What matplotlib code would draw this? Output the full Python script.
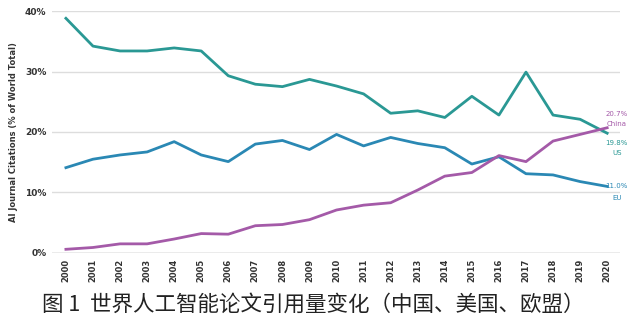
import matplotlib
matplotlib.use("Agg")
import matplotlib.pyplot as plt

plt.rcParams['font.family'] = ['DejaVu Sans']

years = list(range(2000, 2021))
us = [38.8, 34.2, 33.4, 33.4, 33.9, 33.4, 29.3, 27.9, 27.5, 28.7, 27.6,
      26.3, 23.1, 23.5, 22.4, 25.9, 22.8, 29.9, 22.8, 22.1, 19.8]
eu = [14.1, 15.5, 16.2, 16.7, 18.4, 16.2, 15.1, 18.0, 18.6, 17.1, 19.6,
      17.7, 19.1, 18.1, 17.4, 14.7, 15.9, 13.1, 12.9, 11.8, 11.0]
china = [0.6, 0.9, 1.5, 1.5, 2.3, 3.2, 3.1, 4.5, 4.7, 5.5, 7.1,
         7.9, 8.3, 10.4, 12.7, 13.3, 16.1, 15.1, 18.5, 19.6, 20.7]
yticks = [0, 10, 20, 30, 40]
ylabel = "AI Journal Citations (% of World Total)"
caption = "图 1  世界人工智能论文引用量变化（中国、美国、欧盟）"

c_us = "#2a9894"
c_eu = "#2a88b4"
c_cn = "#a45aa8"

fig = plt.figure(figsize=(6.4, 3.35), dpi=100)
ax = fig.add_axes([0.081, 0.245, 0.888, 0.722])

for v in yticks[1:]:
    ax.axhline(v, color="#dddddd", lw=1.0, zorder=0)
ax.axhline(0, color="#999999", lw=1.0, zorder=0)

ax.plot(years, us, color=c_us, lw=2.0)
ax.plot(years, eu, color=c_eu, lw=2.0)
ax.plot(years, china, color=c_cn, lw=2.0)

ax.set_xlim(1999.48, 2020.48)
ax.set_ylim(0, 40)
ax.set_yticks(yticks)
ax.set_yticklabels([f"{v}%" for v in yticks], fontsize=6.5, fontweight="bold", color="#333333")
ax.set_xticks(years)
ax.set_xticklabels([str(y) for y in years], rotation=90, fontsize=6, fontweight="bold", color="#333333")
ax.tick_params(length=0, pad=4)
for s in ax.spines.values():
    s.set_visible(False)
ax.set_ylabel(ylabel, fontsize=6, fontweight="bold", color="#333333", labelpad=5)

xl = 2020.35
ax.text(xl, china[-1] + 2.2, f"{china[-1]}%", color=c_cn, fontsize=5, ha="center", va="center", clip_on=False)
ax.text(xl, china[-1] + 0.6, "China", color=c_cn, fontsize=5, ha="center", va="center", clip_on=False)
ax.text(xl, us[-1] - 1.6, f"{us[-1]}%", color=c_us, fontsize=5, ha="center", va="center", clip_on=False)
ax.text(xl, us[-1] - 3.3, "US", color=c_us, fontsize=5, ha="center", va="center", clip_on=False)
ax.text(xl, eu[-1] + 0.0, f"{eu[-1]}%", color=c_eu, fontsize=5, ha="center", va="center", clip_on=False)
ax.text(xl, eu[-1] - 1.9, "EU", color=c_eu, fontsize=5, ha="center", va="center", clip_on=False)

fig.text(0.49, 0.09, caption, fontsize=15.5, ha="center", va="center",
         family=["Noto Sans CJK SC", "DejaVu Sans"], color="#222222")

fig.savefig("out.png", dpi=100)
